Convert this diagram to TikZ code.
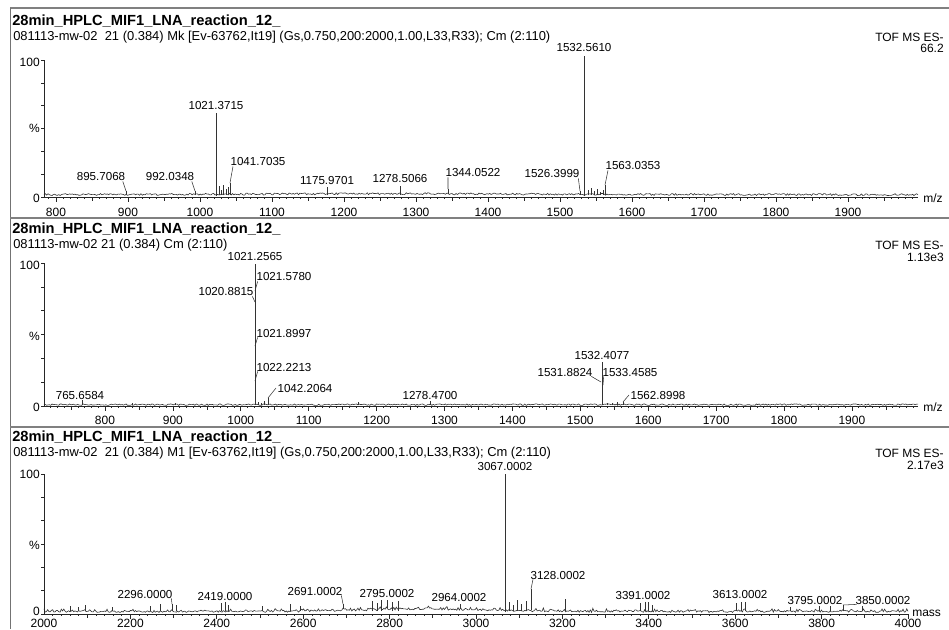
\documentclass[tikz,border=0pt]{standalone}
\usepackage{fontspec}
\setmainfont{Liberation Sans}
\begin{document}
\begin{tikzpicture}[x=0.75pt,y=-0.75pt,
  frame/.style={draw=black!50, line width=1.1pt},
  ax/.style={draw=black!85, line width=0.5pt},
  spec/.style={draw=black!80, line width=0.45pt},
  lead/.style={draw=black!80, line width=0.4pt},
  ttl/.style={font=\fontsize{11}{13}\selectfont\bfseries, anchor=west, inner sep=0pt},
  sub/.style={font=\fontsize{9.7}{11}\selectfont, anchor=west, inner sep=0pt},
  tof/.style={font=\fontsize{9}{11}\selectfont, anchor=east, inner sep=0pt},
  pl/.style={font=\fontsize{8.7}{10}\selectfont, inner sep=0pt},
  tk/.style={font=\fontsize{9}{10}\selectfont, inner sep=0pt},
  yl/.style={font=\fontsize{9}{10}\selectfont, anchor=east, inner sep=0pt},
]
\fill[white] (0,0) rectangle (949,629);
\useasboundingbox (0,0) rectangle (949,629);

% frame
\draw[frame] (10,8) -- (949,8);
\draw[draw=black!55, line width=0.7pt] (10,8) -- (10,629);
\draw[frame] (10,218) -- (949,218);
\draw[frame] (10,427) -- (949,427);

% ================= panel 1 =================
\node[ttl] (t1) at (12,21) {28min\_HPLC\_MIF1\_LNA\_reaction\_12\_};
\node[sub] (s1) at (13,37) {081113-mw-02\ \ 21 (0.384) Mk [Ev-63762,It19] (Gs,0.750,200:2000,1.00,L33,R33); Cm (2:110)};
\node[tof] (tof1) at (944,37) {TOF MS ES-};
\node[tof] (int1) at (944,48) {66.2};

\pgfmathsetseed{1234}
\draw[spec] plot[domain=44:918,samples=650] (\x,{195.6-0.9*exp(-((\x-400)/190)^2)-2.0*rnd});

\draw[ax] (44,60) -- (44,197) -- (918,197);
\foreach \i in {0,...,6} \draw[ax] (41,{60+\i*137/6}) -- (44,{60+\i*137/6});
\node[yl] (ya100) at (40,62) {100};
\node[yl] (yapc) at (40,128) {\%};
\node[yl] (ya0) at (40,198) {0};
\foreach \m in {790,800,...,1990}{
  \pgfmathsetmacro\xx{200+0.72*(\m-1000)}
  \pgfmathsetmacro\tlen{ifthenelse(mod(\m,100)==0,5,ifthenelse(mod(\m,50)==0,3.5,2))}
  \draw[ax] (\xx,197) -- (\xx,197+\tlen);
}
\foreach \m in {800,900,...,1900}
  \node[tk] (xa\m) at ({200+0.72*(\m-1000)},212) {\m};
\node[tk,anchor=west] (mz1) at (923,198) {m/z};

% small spikes panel 1
\foreach \px/\py in {219/186,221/190,223/185,226/189,228/187,588/190,591/188,594/191,597/189,600/192,603/190,327/189,400/188}
  \draw[spec] (\px,195) -- (\px,\py);

\coordinate (a1532) at (584,56);  \draw[spec] (584,196) -- (a1532);
\node[pl] (la1532) at (584,48) {1532.5610};
\coordinate (a1021) at (216,113); \draw[spec] (216,196) -- (a1021);
\node[pl] (la1021) at (216,106) {1021.3715};
\coordinate (a1041) at (230,183); \draw[spec] (230,195) -- (a1041);
\node[pl] (la1041) at (258,162) {1041.7035};
\draw[lead] (a1041) -- ([xshift=2pt]la1041.south west);
\coordinate (a895) at (126,191); \draw[spec] (126,195) -- (a895);
\node[pl] (la895) at (101,177) {895.7068};
\draw[lead] ([xshift=-2pt]la895.south east) -- (a895);
\coordinate (a992) at (195,191); \draw[spec] (195,195) -- (a992);
\node[pl] (la992) at (170,177) {992.0348};
\draw[lead] ([xshift=-2pt]la992.south east) -- (a992);
\coordinate (a1175) at (327,187); \draw[spec] (327,195) -- (a1175);
\node[pl] (la1175) at (327,181) {1175.9701};
\coordinate (a1278) at (400,186); \draw[spec] (400,194) -- (a1278);
\node[pl] (la1278) at (400,179) {1278.5066};
\coordinate (a1344) at (448,189); \draw[spec] (448,194) -- (a1344);
\node[pl] (la1344) at (473,173) {1344.0522};
\draw[lead] (a1344) -- ([xshift=2pt]la1344.south west);
\coordinate (a1526) at (580,191); \draw[spec] (580,195) -- (a1526);
\node[pl] (la1526) at (552,174) {1526.3999};
\draw[lead] ([xshift=-1pt]la1526.south east) -- (a1526);
\coordinate (a1563) at (605,185); \draw[spec] (605,195) -- (a1563);
\node[pl] (la1563) at (633,166) {1563.0353};
\draw[lead] (a1563) -- ([xshift=2pt]la1563.south west);

% ================= panel 2 =================
\node[ttl] (t2) at (12,229) {28min\_HPLC\_MIF1\_LNA\_reaction\_12\_};
\node[sub] (s2) at (13,245) {081113-mw-02 21 (0.384) Cm (2:110)};
\node[tof] (tof2) at (944,245) {TOF MS ES-};
\node[tof] (int2) at (944,257) {1.13e3};

\draw[spec] plot[domain=44:918,samples=650] (\x,{405.4-1.5*rnd});

\draw[ax] (44,263) -- (44,406) -- (918,406);
\foreach \i in {0,...,6} \draw[ax] (41,{263+\i*143/6}) -- (44,{263+\i*143/6});
\node[yl] (yb100) at (40,265) {100};
\node[yl] (ybpc) at (40,336) {\%};
\node[yl] (yb0) at (40,407) {0};
\foreach \m in {720,730,...,1990}{
  \pgfmathsetmacro\xx{105+0.679*(\m-800)}
  \pgfmathsetmacro\tlen{ifthenelse(mod(\m,100)==0,5,ifthenelse(mod(\m,50)==0,3.5,2))}
  \draw[ax] (\xx,406) -- (\xx,406+\tlen);
}
\foreach \m in {800,900,...,1900}
  \node[tk] (xb\m) at ({105+0.679*(\m-800)},420) {\m};
\node[tk,anchor=west] (mz2) at (923,407) {m/z};

\foreach \px/\py in {258/402,261/403,264/401,358/402,607/403,612/403,617/402,132/403,175/403}
  \draw[spec] (\px,405) -- (\px,\py);

\coordinate (b1021) at (255,264); \draw[spec] (255,405) -- (b1021);
\node[pl] (lb1021) at (255,257) {1021.2565};
\coordinate (b1021b) at (255,291);
\node[pl] (lb1021b) at (284,277) {1021.5780};
\draw[lead] (b1021b) -- ([xshift=1pt]lb1021b.south west);
\coordinate (b1020) at (255,302);
\node[pl] (lb1020) at (226,292) {1020.8815};
\draw[lead] ([xshift=-1pt]lb1020.south east) -- (b1020);
\coordinate (b1021c) at (255,346);
\node[pl] (lb1021c) at (284,333) {1021.8997};
\draw[lead] (b1021c) -- ([xshift=1pt]lb1021c.south west);
\coordinate (b1022) at (255,381);
\node[pl] (lb1022) at (284,367) {1022.2213};
\draw[lead] (b1022) -- ([xshift=1pt]lb1022.south west);
\coordinate (b1042) at (268,398); \draw[spec] (268,405) -- (b1042);
\node[pl] (lb1042) at (305,388) {1042.2064};
\draw[lead] (b1042) -- ([xshift=-1pt]lb1042.west);
\coordinate (b765) at (82,400); \draw[spec] (82,405) -- (b765);
\node[pl] (lb765) at (80,395) {765.6584};
\coordinate (b1278) at (430,401); \draw[spec] (430,405) -- (b1278);
\node[pl] (lb1278) at (430,395) {1278.4700};
\coordinate (b1532) at (602,362); \draw[spec] (602,405) -- (b1532);
\node[pl] (lb1532) at (602,355) {1532.4077};
\coordinate (b1531) at (601,382);
\node[pl] (lb1531) at (565,372) {1531.8824};
\draw[lead] ([xshift=-1pt]lb1531.south east) -- (b1531);
\coordinate (b1533) at (603,385);
\node[pl] (lb1533) at (630,372) {1533.4585};
\draw[lead] (b1533) -- ([xshift=1pt]lb1533.south west);
\coordinate (b1562) at (623,402); \draw[spec] (623,405) -- (b1562);
\node[pl] (lb1562) at (658,395) {1562.8998};
\draw[lead] (b1562) -- ([xshift=-1pt]lb1562.west);

% ================= panel 3 =================
\node[ttl] (t3) at (12,437) {28min\_HPLC\_MIF1\_LNA\_reaction\_12\_};
\node[sub] (s3) at (13,453) {081113-mw-02\ \ 21 (0.384) M1 [Ev-63762,It19] (Gs,0.750,200:2000,1.00,L33,R33); Cm (2:110)};
\node[tof] (tof3) at (944,453) {TOF MS ES-};
\node[tof] (int3) at (944,465) {2.17e3};

\draw[spec] plot[domain=44:908,samples=700] (\x,{612.6-2.5*exp(-((\x-420)/90)^2)-3.5*rnd*rnd-1.3*rnd});

\draw[ax] (44,474) -- (44,614) -- (908,614);
\foreach \i in {0,...,6} \draw[ax] (41,{474+\i*140/6}) -- (44,{474+\i*140/6});
\node[yl] (yc100) at (40,474) {100};
\node[yl] (ycpc) at (40,545) {\%};
\node[yl] (yc0) at (40,611.5) {0};
\foreach \m in {2020,2040,...,4000}{
  \pgfmathsetmacro\xx{44+0.432*(\m-2000)}
  \pgfmathsetmacro\tlen{ifthenelse(mod(\m,200)==0,5,ifthenelse(mod(\m,100)==0,3.5,2))}
  \draw[ax] (\xx,614) -- (\xx,614+\tlen);
}
\foreach \m in {2000,2200,...,4000}
  \node[tk] (xc\m) at ({44+0.432*(\m-2000)},623) {\m};
\node[tk,anchor=west] (mass) at (912,613) {mass};

\foreach \px/\py in {70/606,78/607,85/605,112/607,150/606,160/604,176/605,221/603,228/605,262/606,290/604,300/606,372/601,377/603,381/600,392/602,398/601,509/602,513/605,517/600,521/604,526/601,565/599,640/603,648/602,652/605,736/603,745/602,790/607,830/606,862/606}
  \draw[spec] (\px,611) -- (\px,\py);

\coordinate (c3067) at (505,474); \draw[spec] (505,612) -- (c3067);
\node[pl] (lc3067) at (505,466) {3067.0002};
\coordinate (c3128) at (531,589); \draw[spec] (531,610) -- (c3128);
\node[pl] (lc3128) at (558,575) {3128.0002};
\draw[lead] (c3128) -- ([xshift=2pt]lc3128.south west);
\coordinate (c2296) at (172,604); \draw[spec] (172,611) -- (c2296);
\node[pl] (lc2296) at (145,594) {2296.0000};
\draw[lead] ([xshift=-1pt]lc2296.south east) -- (c2296);
\coordinate (c2419) at (225,602); \draw[spec] (225,611) -- (c2419);
\node[pl] (lc2419) at (225,596) {2419.0000};
\coordinate (c2691) at (343,604); \draw[spec] (343,609) -- (c2691);
\node[pl] (lc2691) at (315,591) {2691.0002};
\draw[lead] ([xshift=-1pt]lc2691.south east) -- (c2691);
\coordinate (c2795) at (387,600); \draw[spec] (387,608) -- (c2795);
\node[pl] (lc2795) at (387,593) {2795.0002};
\coordinate (c2964) at (460,604); \draw[spec] (460,609) -- (c2964);
\node[pl] (lc2964) at (459,597) {2964.0002};
\coordinate (c3391) at (645,602); \draw[spec] (645,611) -- (c3391);
\node[pl] (lc3391) at (643,595) {3391.0002};
\coordinate (c3613) at (741,602); \draw[spec] (741,611) -- (c3613);
\node[pl] (lc3613) at (740,594) {3613.0002};
\coordinate (c3795) at (819,606); \draw[spec] (819,611) -- (c3795);
\node[pl] (lc3795) at (815,600) {3795.0002};
\coordinate (c3850) at (843,605); \draw[spec] (843,611) -- (c3850);
\node[pl] (lc3850) at (883,600) {3850.0002};
\draw[lead] (c3850) -- ([xshift=1pt]lc3850.south west);
\end{tikzpicture}
\end{document}
